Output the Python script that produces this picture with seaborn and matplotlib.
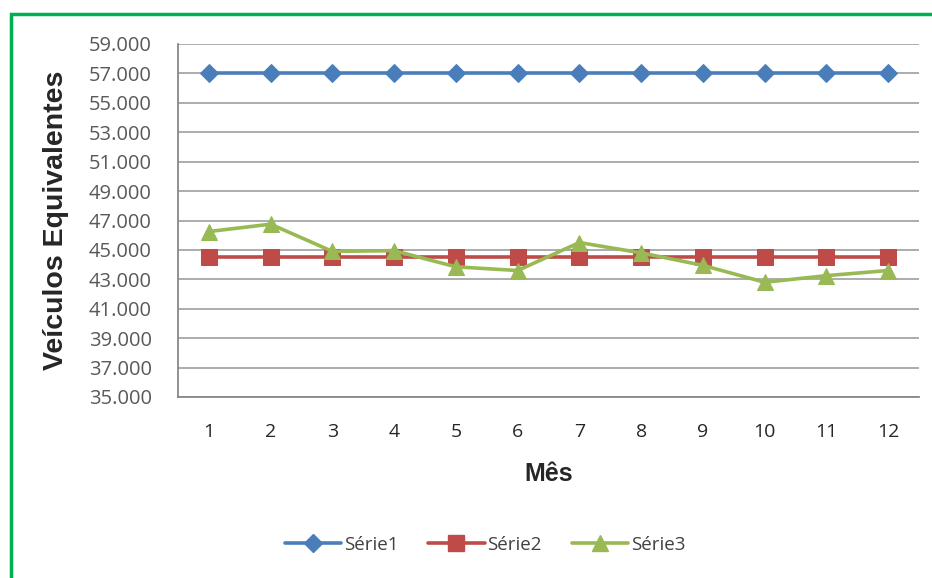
import matplotlib
matplotlib.use("Agg")
import matplotlib.pyplot as plt
import seaborn as sns
import pandas as pd
from matplotlib.ticker import FuncFormatter, FixedLocator
from matplotlib.lines import Line2D
from matplotlib.patches import Rectangle

months = [1, 2, 3, 4, 5, 6, 7, 8, 9, 10, 11, 12]
serie1 = [57000] * 12
serie2 = [44500] * 12
serie3 = [46250, 46750, 44900, 44950, 43850, 43600, 45500, 44800, 43950, 42800, 43250, 43600]
y_ticks = [35000, 37000, 39000, 41000, 43000, 45000, 47000, 49000, 51000, 53000, 55000, 57000, 59000]
series_names = ["Série1", "Série2", "Série3"]
colors = ["#4A7EBB", "#BE4B48", "#98B954"]
markers = ["D", "s", "^"]
msizes = [9, 11, 11]

sns.set_style("white")
plt.rcParams["font.family"] = ["Open Sans", "DejaVu Sans"]

fig = plt.figure(figsize=(9.32, 5.78), dpi=100)
ax = fig.add_axes([178/932, 1-397/578, (919-178)/932, (397-44)/578])

data = [serie1, serie2, serie3]
for name, vals, c, m, ms in zip(series_names, data, colors, markers, msizes):
    df = pd.DataFrame({"Mês": months, "v": vals})
    sns.lineplot(data=df, x="Mês", y="v", ax=ax, color=c, marker=m, markersize=ms,
                 markeredgecolor=c, linewidth=2.6, label=name, zorder=3)

ax.set_xlim(0.5, 12.5)
ax.set_ylim(35000, 59000)
ax.yaxis.set_major_locator(FixedLocator(y_ticks))
ax.yaxis.set_major_formatter(FuncFormatter(lambda v, p: f"{v:,.0f}".replace(",", ".")))
ax.set_xticks(months)
ax.set_xticklabels([str(m) for m in months])
ax.xaxis.set_minor_locator(FixedLocator([i + 0.5 for i in range(0, 13)]))
ax.tick_params(axis="x", which="major", length=0, pad=19, labelsize=14, labelcolor="#262626")
ax.tick_params(axis="x", which="minor", length=5, width=1.2, color="#888888", direction="out")
ax.tick_params(axis="y", which="major", length=6, width=1.2, color="#888888", direction="out",
               labelsize=14.5, labelcolor="#595959", pad=13)
ax.grid(axis="y", color="#A6A6A6", linewidth=1.3, zorder=0)
ax.grid(axis="x", visible=False)
for s in ["top", "right"]:
    ax.spines[s].set_visible(False)
for s in ["left", "bottom"]:
    ax.spines[s].set_color("#888888")
    ax.spines[s].set_linewidth(1.3)

ax.set_xlabel("Mês", fontsize=18, fontweight="bold", family=["Liberation Sans", "DejaVu Sans"], labelpad=15)
ax.set_ylabel("Veículos Equivalentes", fontsize=20.5, fontweight="bold",
              family=["Liberation Sans", "DejaVu Sans"], labelpad=14)

handles = [Line2D([0], [0], color=c, marker=m, markersize=ms, linewidth=2.6, markeredgecolor=c)
           for c, m, ms in zip(colors, markers, msizes)]
ax.get_legend().remove()
fig.legend(handles, series_names, loc="center", bbox_to_anchor=(485/932, 1-545/578), ncol=3,
           frameon=False, fontsize=13.5, handlelength=3.0, columnspacing=1.6, handletextpad=0.15,
           labelcolor="#404040")

fig.add_artist(Rectangle((11/932, -0.05), 1.2, 1-14/578+0.05, transform=fig.transFigure,
                         fill=False, edgecolor="#00B050", linewidth=2.5))

fig.savefig("out.png", dpi=100)
